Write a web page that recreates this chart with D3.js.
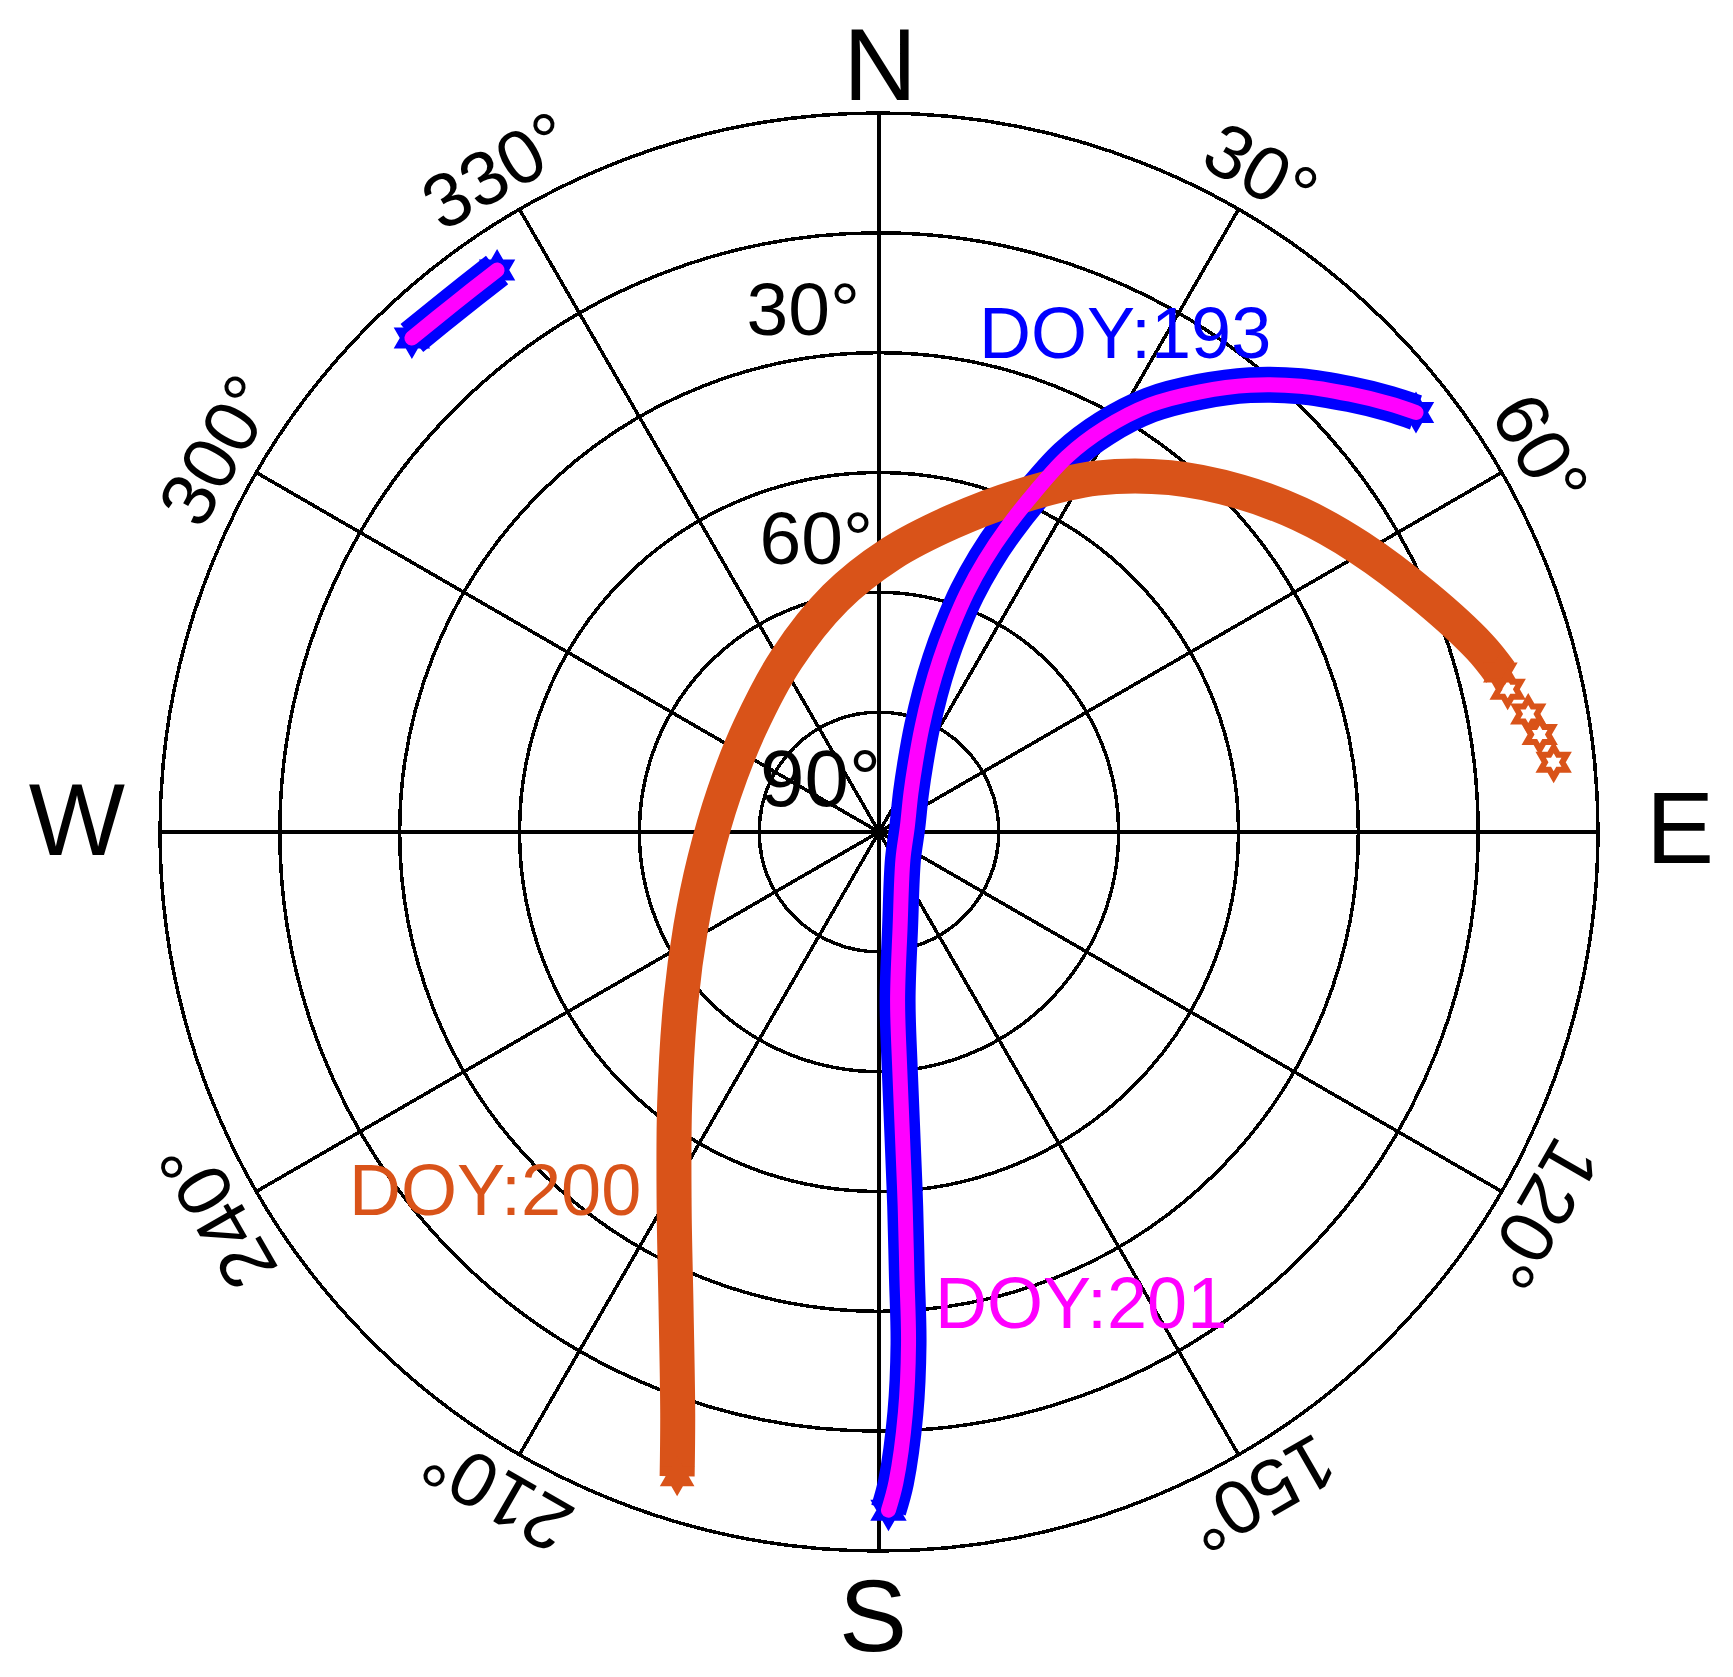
<!DOCTYPE html>
<html><head><meta charset="utf-8">
<script src="https://cdn.jsdelivr.net/npm/d3@7"></script>
<style>body{margin:0;background:#fff}svg{display:block}</style>
</head><body>
<svg id="chart" width="1733" height="1677"></svg>
<script>
// ---------- grid / tick data ----------
const ringElevations = [75, 60, 45, 30, 15, 0];
const spokeAzimuths = [0, 30, 60, 90, 120, 150, 180, 210, 240, 270, 300, 330];
const elevationTicks = [30, 60, 90];
const elevationTickLabels = ["30°", "60°", "90°"];
const azimuthTicks = [30, 60, 120, 150, 210, 240, 300, 330];
const azimuthTickLabels = ["30°", "60°", "120°", "150°", "210°", "240°", "300°", "330°"];
const cardinalLabels = ["N", "E", "S", "W"];

// ---------- series data (azimuth deg, elevation deg) ----------
// DOY:193 — short low arc in the north-west, then the main pass
const doy193ArcAz = [316.6, 321.2, 325.8];
const doy193ArcEl = [4.9, 5.15, 4.95];
const doy193PassAz = [179.2, 178.5, 177.4, 176.7, 176.4, 176.0, 175.6, 175.0, 173.7, 167.5, 139.4, 79.9, 39.4, 27.2, 22.3, 20.2, 19.5, 19.6, 20.2, 21.3, 22.8, 24.6, 26.6, 29.2, 32.4, 36.1, 39.7, 43.4, 47.1, 50.0, 52.0];
const doy193PassEl = [5.1, 8.6, 17.2, 25.8, 34.4, 43.0, 51.6, 60.2, 68.8, 77.8, 85.4, 86.4, 83.7, 79.9, 75.8, 71.5, 67.2, 62.8, 58.1, 53.5, 48.6, 43.3, 37.5, 32.1, 26.7, 21.8, 17.3, 13.2, 9.5, 6.6, 4.7];
// DOY:201 — same ground track as DOY:193
const doy201ArcAz = [316.6, 321.2, 325.8];
const doy201ArcEl = [4.9, 5.15, 4.95];
const doy201PassAz = [179.2, 178.5, 177.4, 176.7, 176.4, 176.0, 175.6, 175.0, 173.7, 167.5, 139.4, 79.9, 39.4, 27.2, 22.3, 20.2, 19.5, 19.6, 20.2, 21.3, 22.8, 24.6, 26.6, 29.2, 32.4, 36.1, 39.7, 43.4, 47.1, 50.0, 52.0];
const doy201PassEl = [5.1, 8.6, 17.2, 25.8, 34.4, 43.0, 51.6, 60.2, 68.8, 77.8, 85.4, 86.4, 83.7, 79.9, 75.8, 71.5, 67.2, 62.8, 58.1, 53.5, 48.6, 43.3, 37.5, 32.1, 26.7, 21.8, 17.3, 13.2, 9.5, 6.6, 4.7];
// DOY:200 — dense track plus the last sparse epochs
const doy200Az = [197.4, 199.1, 203.0, 208.7, 217.0, 229.7, 243.2, 260.9, 284.1, 309.1, 332.1, 349.4, 2.3, 13.3, 22.8, 31.6, 39.4, 46.7, 52.9, 59.4, 66.8, 72.9, 75.6];
const doy200El = [5.5, 13.0, 25.0, 36.6, 47.5, 57.5, 63.6, 67.9, 70.0, 69.2, 65.4, 60.2, 55.2, 50.1, 44.4, 38.0, 32.6, 27.9, 24.0, 20.1, 15.5, 11.3, 9.7];
const doy200TailAz = [77.2, 79.7, 81.6, 84.1];
const doy200TailEl = [9.3, 7.4, 6.4, 5.1];

const seriesLabels = ["DOY:193", "DOY:200", "DOY:201"];

// ---------- layout ----------
const W = 1733, H = 1677;
const cx = 879, cy = 832, R = 719;
const FONT = "'Liberation Sans', Arial, Helvetica, sans-serif";
const BLUE = "#0000ff", MAGENTA = "#ff00ff", ORANGE = "#d95319";

const svg = d3.select("#chart");
svg.append("rect").attr("width", W).attr("height", H).attr("fill", "#fff");

const rScale = d3.scaleLinear().domain([90, 0]).range([0, R]);
const aScale = d3.scaleLinear().domain([0, 360]).range([0, 2 * Math.PI]);
const project = (az, el) => {
  const r = rScale(el), a = aScale(az);
  return [cx + r * Math.sin(a), cy - r * Math.cos(a)];
};
const zip = (az, el) => az.map((a, i) => project(a, el[i]));

// ---------- grid ----------
const grid = svg.append("g").attr("fill", "none").attr("stroke", "#000")
  .attr("stroke-width", 3.5).attr("shape-rendering", "crispEdges");
grid.selectAll("circle").data(ringElevations).join("circle")
  .attr("cx", cx).attr("cy", cy).attr("r", d => rScale(d));
grid.selectAll("line").data(spokeAzimuths).join("line")
  .attr("x1", cx).attr("y1", cy)
  .attr("x2", d => project(d, 0)[0]).attr("y2", d => project(d, 0)[1]);

// ---------- helpers ----------
const line = d3.line().curve(d3.curveCatmullRom.alpha(0.5));
function hexagram(Rv) {
  const pts = [];
  for (let k = 0; k < 12; k++) {
    const rr = k % 2 === 0 ? Rv : Rv / Math.sqrt(3);
    const ang = (-90 + k * 30) * Math.PI / 180;
    pts.push([rr * Math.cos(ang), rr * Math.sin(ang)]);
  }
  return "M" + pts.map(p => p.join(",")).join("L") + "Z";
}
function stars(g, pts, Rv, fill, stroke, sw) {
  g.selectAll(null).data(pts).join("path")
    .attr("d", hexagram(Rv))
    .attr("transform", d => `translate(${d[0]},${d[1]})`)
    .attr("fill", fill).attr("stroke", stroke).attr("stroke-width", sw)
    .attr("stroke-linejoin", "miter").attr("stroke-miterlimit", 10);
}

// ---------- DOY:193 (blue, wide) ----------
const g193 = svg.append("g");
const p193a = zip(doy193ArcAz, doy193ArcEl), p193p = zip(doy193PassAz, doy193PassEl);
[p193a, p193p].forEach(p => g193.append("path").attr("d", line(p))
  .attr("fill", "none").attr("stroke", BLUE).attr("stroke-width", 36).attr("stroke-linecap", "butt"));
stars(g193, [p193a[0], p193a[p193a.length - 1], p193p[0], p193p[p193p.length - 1]], 21, BLUE, "none", 0);

// ---------- DOY:200 (orange) ----------
const g200 = svg.append("g");
const p200 = zip(doy200Az, doy200El);
g200.append("path").attr("d", line(p200))
  .attr("fill", "none").attr("stroke", ORANGE).attr("stroke-width", 35).attr("stroke-linecap", "butt");
stars(g200, [p200[0], p200[p200.length - 1]], 20, ORANGE, "none", 0);
stars(g200, zip(doy200TailAz, doy200TailEl), 15, "none", ORANGE, 6);

// ---------- DOY:201 (magenta, narrow) ----------
const g201 = svg.append("g");
[zip(doy201ArcAz, doy201ArcEl), zip(doy201PassAz, doy201PassEl)].forEach(p => g201.append("path").attr("d", line(p))
  .attr("fill", "none").attr("stroke", MAGENTA).attr("stroke-width", 15).attr("stroke-linecap", "round"));

// ---------- text ----------
const txt = svg.append("g").attr("font-family", FONT).attr("fill", "#000");

// elevation labels (left of north axis, above their ring)
const elevDx = [-19, -6, 2], elevDy = [-18, -28, -26], elevFs = [75, 75, 80];
txt.selectAll(".elev").data(elevationTicks).join("text").attr("class", "elev")
  .attr("x", (d, i) => cx + elevDx[i])
  .attr("y", (d, i) => cy - rScale(d) + elevDy[i])
  .attr("text-anchor", "end").attr("font-size", (d, i) => elevFs[i])
  .text((d, i) => elevationTickLabels[i]);

// azimuth labels, rotated with the azimuth
txt.selectAll(".az").data(azimuthTicks).join("text").attr("class", "az")
  .attr("transform", d => `translate(${cx},${cy}) rotate(${d}) translate(0,${-(R + 46)})`)
  .attr("text-anchor", "middle").attr("dy", "0.36em").attr("font-size", 76)
  .text((d, i) => azimuthTickLabels[i]);

// cardinal letters
const cardPos = [
  { x: cx + 1, y: cy - R - 13, anchor: "middle" },
  { x: cx + R + 48, y: cy + 31, anchor: "start" },
  { x: cx - 6, y: cy + R + 100, anchor: "middle" },
  { x: cx - R - 83, y: cy + 23, anchor: "middle" }
];
txt.selectAll(".card").data(cardinalLabels).join("text").attr("class", "card")
  .attr("x", (d, i) => cardPos[i].x).attr("y", (d, i) => cardPos[i].y)
  .attr("text-anchor", (d, i) => cardPos[i].anchor).attr("font-size", 102)
  .text(d => d);

// series labels
const labelPos = [
  { x: 979, y: 358, c: BLUE },
  { x: 349, y: 1215, c: ORANGE },
  { x: 935, y: 1328, c: MAGENTA }
];
txt.selectAll(".lab").data(seriesLabels).join("text").attr("class", "lab")
  .attr("x", (d, i) => labelPos[i].x).attr("y", (d, i) => labelPos[i].y)
  .attr("fill", (d, i) => labelPos[i].c).attr("font-size", 72)
  .text(d => d);
</script>
</body></html>
